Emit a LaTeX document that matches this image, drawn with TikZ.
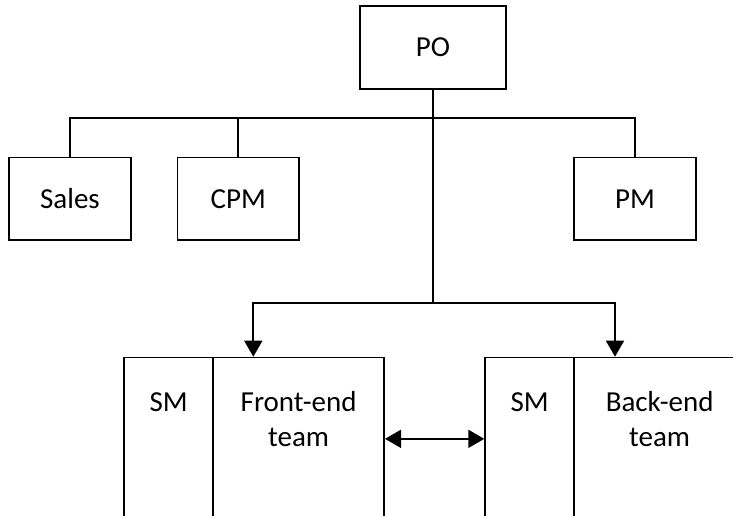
\documentclass[tikz,border=0pt]{standalone}
\usepackage{fontspec}
\setmainfont{Carlito}
\usetikzlibrary{arrows.meta}
\begin{document}
\begin{tikzpicture}[x=1pt, y=-1pt,
  line width=1.7pt,
  box/.style={draw, inner sep=0pt, font=\fontsize{29}{35}\selectfont},
  col/.style={draw, inner sep=0pt, anchor=north west, minimum height=162.6pt},
  lbl/.style={inner sep=0pt, anchor=base, align=center, font=\fontsize{29}{35}\selectfont},
  head/.style={-{Triangle[length=16pt, width=18pt]}},
  both/.style={{Triangle[length=16pt, width=18pt]}-{Triangle[length=16pt, width=18pt]}}]
  \useasboundingbox (0,0) rectangle (733,515);
  \clip (0,0) rectangle (733,515);

  % top level and staff boxes
  \node[box, minimum width=145.7pt, minimum height=83pt] (po) at (432.9,47.5) {PO};
  \node[box, minimum width=121.4pt, minimum height=82.7pt] (sales) at (70,198.7) {Sales};
  \node[box, minimum width=121.4pt, minimum height=82.7pt] (cpm) at (238.3,198.7) {CPM};
  \node[box, minimum width=121.4pt, minimum height=82.7pt] (pm) at (635,198.7) {PM};

  % team columns (they run past the lower edge)
  \node[col, minimum width=89pt]  (feSM) at (123.3,356.7) {};
  \node[col, minimum width=171pt] (fe)   at (212.3,356.7) {};
  \node[col, minimum width=89pt]  (beSM) at (484.3,356.7) {};
  \node[col, minimum width=171pt] (be)   at (573.3,356.7) {};

  % column titles; two-line titles sit on the baseline of their last line
  \node[lbl] (feSMlbl) at (feSM.north |- 0,411.7) {SM};
  \node[lbl] (felbl)   at (fe.north |- 0,446.7) {Front-end\\team};
  \node[lbl] (beSMlbl) at (beSM.north |- 0,411.7) {SM};
  \node[lbl] (belbl)   at (be.north |- 0,446.7) {Back-end\\team};

  % junction points
  \coordinate (bus) at (po.south |- 0,118);
  \coordinate (split) at (po.south |- 0,302.7);
  \coordinate (feIn) at ([xshift=41pt]fe.north west);
  \coordinate (beIn) at ([xshift=41.7pt]be.north west);

  % connectors
  \draw (po.south) -- (split);
  \draw (sales.north) |- (bus) -| (pm.north);
  \draw (cpm.north) -- (cpm.north |- bus);
  \draw[head] (split) -| (feIn);
  \draw[head] (split) -| (beIn);
  \draw[both] (fe.east) -- (beSM.west);
\end{tikzpicture}
\end{document}
